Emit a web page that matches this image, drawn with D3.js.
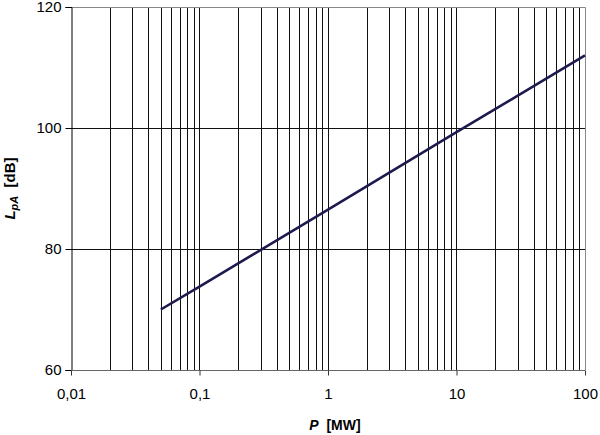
<!DOCTYPE html>
<html>
<head>
<meta charset="utf-8">
<script src="https://cdn.jsdelivr.net/npm/d3@7"></script>
<style>
  body { margin: 0; background: #fff; }
  svg text { font-family: "Liberation Sans", Arial, sans-serif; }
</style>
</head>
<body>
<svg id="chart" width="600" height="435"></svg>
<script>
// power P [MW] and sound pressure level LpA [dB]
const powerMW = [0.05, 0.1, 1, 10, 100];
const levelDB = [70, 73.8, 86.5, 99.3, 112];
const xTickLabels = ['0,01', '0,1', '1', '10', '100'];
const yTicks = [60, 80, 100, 120];

const svg = d3.select('#chart');
const mLeft = 71, mRight = 585, mTop = 7, mBottom = 370;

const x = d3.scaleLog().domain([0.01, 100]).range([mLeft, mRight]);
const y = d3.scaleLinear().domain([60, 120]).range([mBottom, mTop]);

// minor + major vertical grid lines
const gridX = [];
for (let e = -2; e < 2; e++) {
    for (let m = 1; m <= 9; m++) {
        gridX.push(m * Math.pow(10, e));
    }
}

svg.append('g')
    .selectAll('line')
    .data(gridX.filter(d => d > 0.01))
    .join('line')
    .attr('x1', d => Math.round(x(d)) + 0.5)
    .attr('x2', d => Math.round(x(d)) + 0.5)
    .attr('y1', mTop)
    .attr('y2', mBottom)
    .attr('stroke', '#111')
    .attr('stroke-width', 1);

// horizontal grid
svg.append('g')
    .selectAll('line')
    .data(yTicks.filter(d => d > 60 && d < 120))
    .join('line')
    .attr('x1', mLeft)
    .attr('x2', mRight)
    .attr('y1', d => Math.round(y(d)) + 0.5)
    .attr('y2', d => Math.round(y(d)) + 0.5)
    .attr('stroke', '#111')
    .attr('stroke-width', 1);

// frame: top and right grey
svg.append('path')
    .attr('d', `M${mLeft},${mTop + 0.5}H${mRight + 0.5}V${mBottom}`)
    .attr('fill', 'none')
    .attr('stroke', '#888')
    .attr('stroke-width', 1);

// y axis
const yAxis = svg.append('g')
    .attr('transform', `translate(${mLeft + 0.5},0)`)
    .call(d3.axisLeft(y).tickValues(yTicks).tickSize(6).tickPadding(4).tickFormat(d3.format('d')));
yAxis.select('.domain').attr('stroke', '#000');
yAxis.selectAll('.tick line').attr('stroke', '#000');
yAxis.selectAll('text').attr('font-size', 15).attr('fill', '#000');

// x axis
const xAxis = svg.append('g')
    .attr('transform', `translate(0,${mBottom + 0.5})`)
    .call(d3.axisBottom(x).tickValues([0.01, 0.1, 1, 10, 100]).tickSize(5).tickPadding(13)
        .tickFormat((d, i) => xTickLabels[i]));
xAxis.select('.domain').attr('stroke', '#666').attr('d', `M${mLeft},0H${mRight}`);
xAxis.selectAll('.tick line').attr('stroke', '#333');
xAxis.selectAll('text').attr('font-size', 15).attr('fill', '#000');

// data line
const line = d3.line()
    .x((d, i) => x(powerMW[i]))
    .y(d => y(d));

svg.append('path')
    .datum(levelDB)
    .attr('d', line)
    .attr('fill', 'none')
    .attr('stroke', '#1c1a4e')
    .attr('stroke-width', 2.6);

// axis titles
svg.append('text')
    .attr('x', 335)
    .attr('y', 430)
    .attr('text-anchor', 'middle')
    .attr('font-size', 14)
    .attr('font-weight', 'bold')
    .html('<tspan font-style="italic">P</tspan>&#160;&#160;[MW]');

svg.append('text')
    .attr('transform', `translate(15,${(mTop + mBottom) / 2}) rotate(-90)`)
    .attr('text-anchor', 'middle')
    .attr('font-size', 15)
    .attr('font-weight', 'bold')
    .html('<tspan font-style="italic">L</tspan><tspan font-style="italic" font-size="11" dy="3">pA</tspan><tspan dy="-3">&#160;&#160;[dB]</tspan>');
</script>
</body>
</html>
